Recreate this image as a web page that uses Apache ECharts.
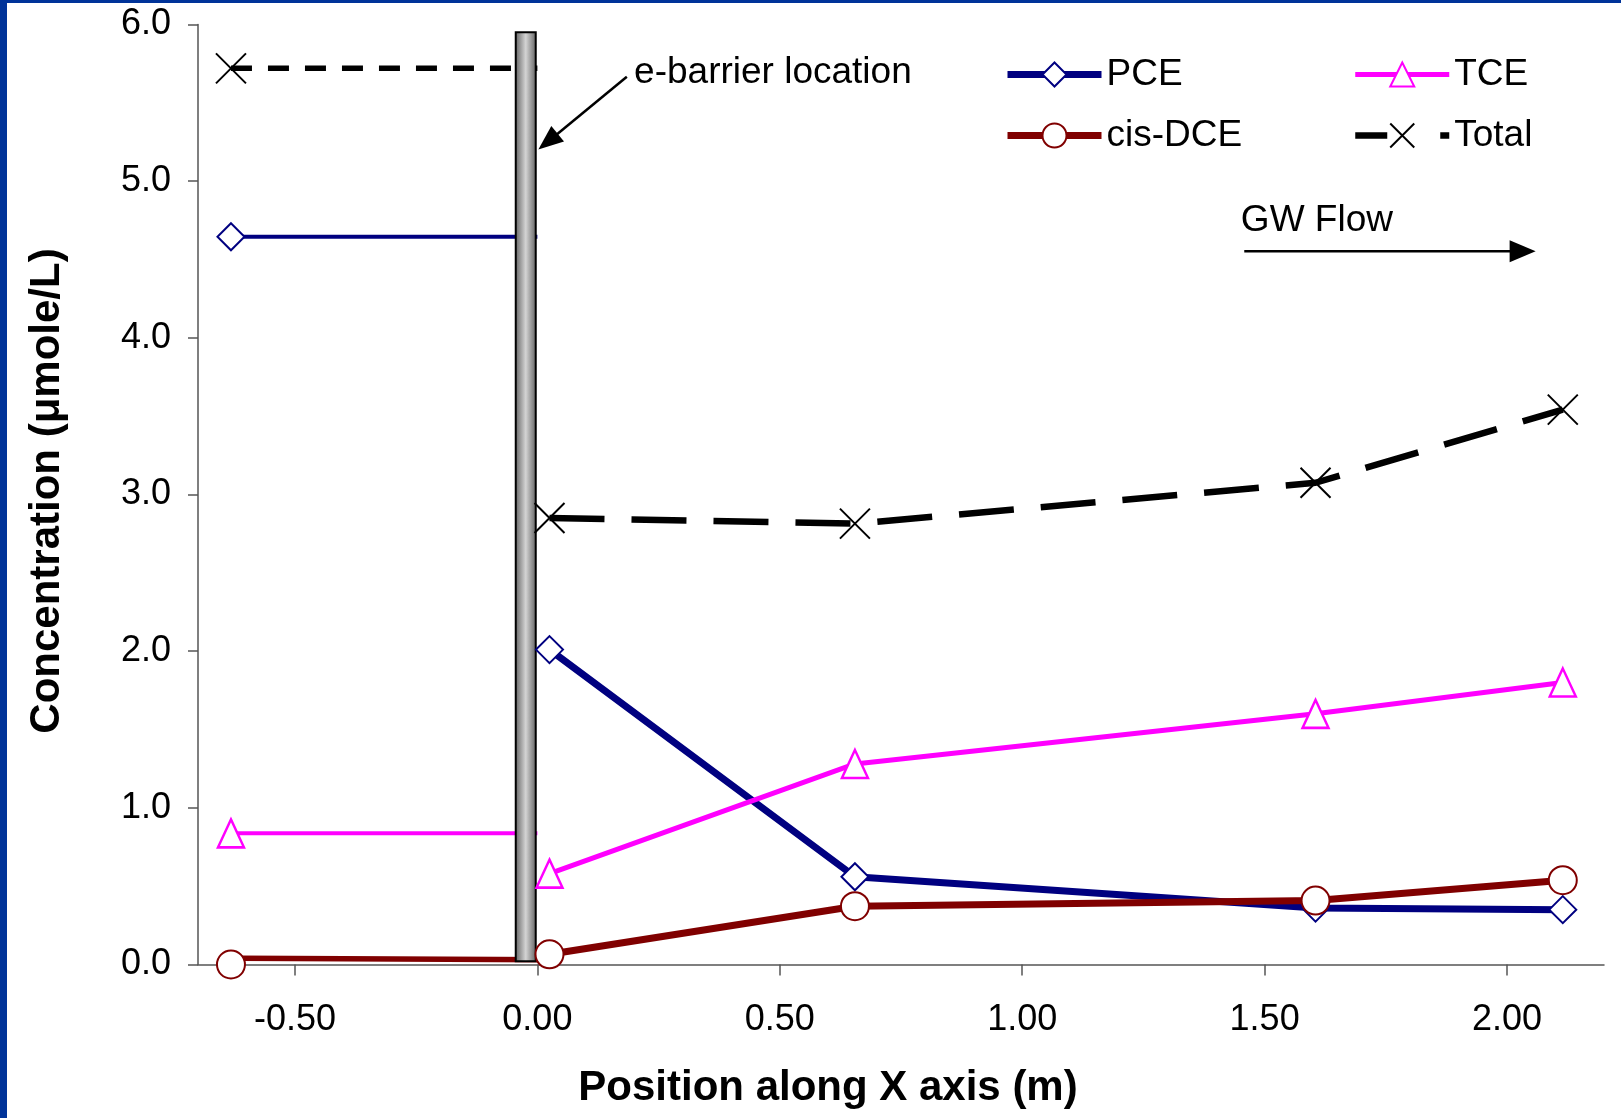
<!DOCTYPE html>
<html><head><meta charset="utf-8">
<script src="https://cdn.jsdelivr.net/npm/echarts@6/dist/echarts.min.js"></script>
<style>html,body{margin:0;padding:0;background:#fff;}#c{width:1621px;height:1118px;}</style>
</head><body><div id="c"></div>
<script>
// ---- data ----
const positions = [0.025, 0.655, 1.605, 2.115];
const pce = [2.01, 0.56, 0.36, 0.35];
const tce = [0.58, 1.28, 1.60, 1.80];
const cisDce = [0.065, 0.372, 0.408, 0.538];
const total = [2.85, 2.814, 3.075, 3.542];

const upstreamPos = [-0.632, 0.0];
const pceUpstream = [4.645, 4.645];
const tceUpstream = [0.837, 0.837];
const cisDceUpstream = [0.04, 0.03];
const cisDceUpstreamPos = [-0.612, 0.026];
const cisDceUpstreamMarker = [0.0];
const totalUpstream = [5.72, 5.72];

const barrierPos = [-0.024];
const barrierRange = [0.02, 5.95];

const xTicks = [-0.5, 0, 0.5, 1, 1.5, 2];
const yTicks = [0, 1, 2, 3, 4, 5, 6];

// annotation anchors (data coordinates)
const barrierArrow = [[0.1845, 5.666], [0.002, 5.202]];
const barrierLabelAt = [0.1995, 5.69];
const flowArrow = [[1.458, 4.552], [2.059, 4.552]];
const flowLabelAt = [1.451, 4.745];

// ---- chart ----
const FONT = "'Liberation Sans', Arial, Helvetica, sans-serif";
const zip = (xs, ys) => xs.map((x, i) => [x, ys[i]]);
const X_PATH = 'path://M0,0L10,10M10,0L0,10';

const styles = {
  PCE: {color: '#000080', width: 7, upWidth: 4, symbol: 'diamond', size: [27, 27], bw: 2},
  TCE: {color: '#FF00FF', width: 5, upWidth: 4, symbol: 'triangle', size: [26, 28], bw: 2.5},
  'cis-DCE': {color: '#800000', width: 7, upWidth: 5.5, symbol: 'circle', size: [28, 28], bw: 2},
  Total: {color: '#000000', width: 6.5, upWidth: 5.5, symbol: X_PATH, size: [30, 30], bw: 2}
};

function mainSeries(name, values) {
  const s = styles[name];
  const isX = name === 'Total';
  return {
    name, type: 'line', z: 4, data: zip(positions, values),
    symbol: s.symbol, symbolSize: s.size, showSymbol: true,
    lineStyle: {color: s.color, width: s.width, type: isX ? [55, 27] : 'solid', cap: 'butt'},
    itemStyle: {color: isX ? '#000' : '#fff', borderColor: s.color, borderWidth: s.bw},
    emphasis: {disabled: true}
  };
}
function upLine(name, xs, values) {
  const s = styles[name];
  return {
    name: name + ' upstream', type: 'line', z: 2, data: zip(xs, values), symbol: 'none',
    lineStyle: {color: s.color, width: s.upWidth, type: name === 'Total' ? [21, 16] : 'solid', cap: 'butt'},
    emphasis: {disabled: true}
  };
}
function upMarker(name, x, v) {
  const s = styles[name];
  const isX = name === 'Total';
  return {
    name: name + ' upstream marker', type: 'scatter', z: 4, data: [[x, v]],
    symbol: s.symbol, symbolSize: s.size,
    itemStyle: {color: isX ? '#000' : '#fff', borderColor: s.color, borderWidth: s.bw, opacity: 1},
    emphasis: {disabled: true}
  };
}
function legendItem(name, dash) {
  const s = styles[name];
  return {name, lineStyle: {width: s.width, color: s.color, type: dash || 'solid', cap: 'butt'}};
}

const chart = echarts.init(document.getElementById('c'), null, {renderer: 'canvas'});

const axisLineStyle = {color: '#555', width: 1.5};
const legendBase = {
  orient: 'vertical', padding: 0, itemWidth: 94, itemHeight: 30, itemGap: 24,
  selectedMode: false,
  textStyle: {fontSize: 37, fontFamily: FONT, color: '#000', lineHeight: 37}
};

chart.setOption({
  animation: false,
  backgroundColor: '#fff',
  grid: {left: 198, right: 17, top: 24.5, bottom: 153.5, containLabel: false},
  xAxis: {
    type: 'value', min: -0.7, max: 2.2,
    splitLine: {show: false},
    axisLine: {show: true, onZero: false, lineStyle: axisLineStyle},
    axisTick: {show: true, customValues: xTicks, length: 11, lineStyle: axisLineStyle},
    axisLabel: {customValues: xTicks, formatter: v => v.toFixed(2), fontSize: 36, fontFamily: FONT, color: '#000', margin: 38}
  },
  yAxis: {
    type: 'value', min: 0, max: 6, interval: 1,
    splitLine: {show: false},
    axisLine: {show: true, onZero: false, lineStyle: axisLineStyle},
    axisTick: {show: true, length: 10, lineStyle: axisLineStyle},
    axisLabel: {formatter: v => v.toFixed(1), fontSize: 36, fontFamily: FONT, color: '#000', margin: 27, padding: [8, 0, 0, 0]}
  },
  legend: [
    Object.assign({}, legendBase, {left: 1004, top: 56, data: [legendItem('PCE'), legendItem('cis-DCE')]}),
    Object.assign({}, legendBase, {left: 1352, top: 56, data: [legendItem('TCE'), legendItem('Total', [32, 53])]})
  ],
  series: [
    upLine('PCE', upstreamPos, pceUpstream),
    upLine('TCE', upstreamPos, tceUpstream),
    upLine('cis-DCE', cisDceUpstreamPos, cisDceUpstream),
    upLine('Total', upstreamPos, totalUpstream),
    {
      name: 'e-barrier', type: 'custom', z: 3, silent: true,
      data: [[barrierPos[0], barrierRange[0], barrierRange[1]]],
      encode: {x: 0, y: [1, 2]},
      renderItem: (params, api) => {
        const top = api.coord([api.value(0), api.value(2)]);
        const bot = api.coord([api.value(0), api.value(1)]);
        const w = 20;
        return {
          type: 'rect',
          shape: {x: top[0] - w / 2, y: top[1], width: w, height: bot[1] - top[1]},
          style: {
            fill: new echarts.graphic.LinearGradient(0, 0, 1, 0, [
              {offset: 0, color: '#5e5e5e'}, {offset: 0.5, color: '#d4d4d4'}, {offset: 1, color: '#5e5e5e'}
            ]),
            stroke: '#000', lineWidth: 2
          }
        };
      }
    },
    mainSeries('PCE', pce),
    mainSeries('TCE', tce),
    mainSeries('cis-DCE', cisDce),
    mainSeries('Total', total),
    upMarker('PCE', upstreamPos[0], pceUpstream[0]),
    upMarker('TCE', upstreamPos[0], tceUpstream[0]),
    upMarker('cis-DCE', upstreamPos[0], cisDceUpstreamMarker[0]),
    upMarker('Total', upstreamPos[0], totalUpstream[0])
  ]
});

// ---- annotations positioned through the axes' scales ----
const px = p => chart.convertToPixel({gridIndex: 0}, p);
function arrow(idBase, from, to, headLen, headW) {
  const a = px(from), b = px(to);
  const dx = b[0] - a[0], dy = b[1] - a[1];
  const L = Math.hypot(dx, dy), ux = dx / L, uy = dy / L;
  const bx = b[0] - ux * headLen, by = b[1] - uy * headLen;
  const nx = -uy * headW / 2, ny = ux * headW / 2;
  return [
    {type: 'line', id: idBase + 'l', z: 50, shape: {x1: a[0], y1: a[1], x2: bx + ux * 2, y2: by + uy * 2}, style: {stroke: '#000', lineWidth: 2.5}},
    {type: 'polygon', id: idBase + 'h', z: 50, shape: {points: [[b[0], b[1]], [bx + nx, by + ny], [bx - nx, by - ny]]}, style: {fill: '#000'}}
  ];
}
const bl = px(barrierLabelAt), fl = px(flowLabelAt);
chart.setOption({
  graphic: [
    {type: 'rect', id: 'bt', z: 100, shape: {x: 0, y: 0, width: 1621, height: 3}, style: {fill: '#003399'}},
    {type: 'rect', id: 'bl', z: 100, shape: {x: 0, y: 0, width: 7, height: 1118}, style: {fill: '#003399'}},
    {type: 'text', id: 'yt', z: 50, x: 47.5, y: 491, rotation: Math.PI / 2,
      style: {text: 'Concentration (μmole/L)', fontSize: 42, fontWeight: 'bold', fontFamily: FONT, fill: '#000', align: 'center', verticalAlign: 'middle'}},
    {type: 'text', id: 'xt', z: 50, x: 828, y: 1088,
      style: {text: 'Position along X axis (m)', fontSize: 42, fontWeight: 'bold', fontFamily: FONT, fill: '#000', align: 'center', verticalAlign: 'middle'}},
    {type: 'text', id: 'ebl', z: 50, x: bl[0], y: bl[1],
      style: {text: 'e-barrier location', fontSize: 37, fontFamily: FONT, fill: '#000', align: 'left', verticalAlign: 'middle'}},
    {type: 'text', id: 'gwl', z: 50, x: fl[0], y: fl[1],
      style: {text: 'GW Flow', fontSize: 37, fontFamily: FONT, fill: '#000', align: 'left', verticalAlign: 'middle'}}
  ].concat(arrow('ba', barrierArrow[0], barrierArrow[1], 25, 20), arrow('fa', flowArrow[0], flowArrow[1], 26, 22))
});
</script>
</body></html>
